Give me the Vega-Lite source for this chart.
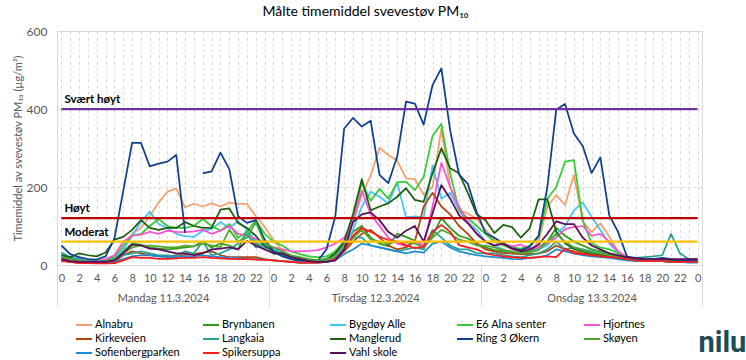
{
"$schema": "https://vega.github.io/schema/vega-lite/v6.json",
"width": 645, "height": 234,
"autosize": {"type": "none"},
"padding": {"left": 57, "top": 31, "right": 44, "bottom": 95},
"background": "white",
"title": {"text": "Målte timemiddel svevestøv PM₁₀", "fontSize": 14, "fontWeight": "normal", "color": "#000000", "anchor": "middle", "frame": "group", "dx": -14, "offset": 6},
"config": {
  "view": {"stroke": "#D9D9D9"},
  "font": "Lato",
  "axis": {"labelFont": "Lato", "titleFont": "Lato"},
  "legend": {"labelFont": "Lato"},
  "title": {"font": "Lato"},
  "text": {"font": "Lato"}
},
"resolve": {"axis": {"x": "independent"}},
"layer": [
{
  "data": {"values": [
{"h":0,"s":"Alnabru","v":15},{"h":1,"s":"Alnabru","v":10},{"h":2,"s":"Alnabru","v":8},{"h":3,"s":"Alnabru","v":6},{"h":4,"s":"Alnabru","v":6},{"h":5,"s":"Alnabru","v":8},{"h":6,"s":"Alnabru","v":15},{"h":7,"s":"Alnabru","v":45},{"h":8,"s":"Alnabru","v":80},{"h":9,"s":"Alnabru","v":95},{"h":10,"s":"Alnabru","v":125},{"h":11,"s":"Alnabru","v":160},{"h":12,"s":"Alnabru","v":188},{"h":13,"s":"Alnabru","v":196},{"h":14,"s":"Alnabru","v":148},{"h":15,"s":"Alnabru","v":157},{"h":16,"s":"Alnabru","v":150},{"h":17,"s":"Alnabru","v":158},{"h":18,"s":"Alnabru","v":150},{"h":19,"s":"Alnabru","v":160},{"h":20,"s":"Alnabru","v":157},{"h":21,"s":"Alnabru","v":157},{"h":22,"s":"Alnabru","v":125},{"h":23,"s":"Alnabru","v":98},
{"h":24,"s":"Alnabru","v":64},{"h":25,"s":"Alnabru","v":38},{"h":26,"s":"Alnabru","v":21},{"h":27,"s":"Alnabru","v":12},{"h":28,"s":"Alnabru","v":8},{"h":29,"s":"Alnabru","v":8},{"h":30,"s":"Alnabru","v":10},{"h":31,"s":"Alnabru","v":25},{"h":32,"s":"Alnabru","v":55},{"h":33,"s":"Alnabru","v":110},{"h":34,"s":"Alnabru","v":180},{"h":35,"s":"Alnabru","v":230},{"h":36,"s":"Alnabru","v":300},{"h":37,"s":"Alnabru","v":282},{"h":38,"s":"Alnabru","v":268},{"h":39,"s":"Alnabru","v":222},{"h":40,"s":"Alnabru","v":220},{"h":41,"s":"Alnabru","v":180},{"h":42,"s":"Alnabru","v":200},{"h":43,"s":"Alnabru","v":350},{"h":44,"s":"Alnabru","v":200},{"h":45,"s":"Alnabru","v":140},{"h":46,"s":"Alnabru","v":132},{"h":47,"s":"Alnabru","v":118},
{"h":48,"s":"Alnabru","v":90},{"h":49,"s":"Alnabru","v":64},{"h":50,"s":"Alnabru","v":50},{"h":51,"s":"Alnabru","v":40},{"h":52,"s":"Alnabru","v":35},{"h":53,"s":"Alnabru","v":35},{"h":54,"s":"Alnabru","v":60},{"h":55,"s":"Alnabru","v":150},{"h":56,"s":"Alnabru","v":179},{"h":57,"s":"Alnabru","v":154},{"h":58,"s":"Alnabru","v":231},{"h":59,"s":"Alnabru","v":111},{"h":60,"s":"Alnabru","v":85},{"h":61,"s":"Alnabru","v":107},{"h":62,"s":"Alnabru","v":73},{"h":63,"s":"Alnabru","v":34},{"h":64,"s":"Alnabru","v":18},{"h":65,"s":"Alnabru","v":14},{"h":66,"s":"Alnabru","v":12},{"h":67,"s":"Alnabru","v":12},{"h":68,"s":"Alnabru","v":12},{"h":69,"s":"Alnabru","v":10},{"h":70,"s":"Alnabru","v":8},{"h":71,"s":"Alnabru","v":8},{"h":72,"s":"Alnabru","v":8},

{"h":0,"s":"Brynbanen","v":18},{"h":1,"s":"Brynbanen","v":15},{"h":2,"s":"Brynbanen","v":12},{"h":3,"s":"Brynbanen","v":10},{"h":4,"s":"Brynbanen","v":8},{"h":5,"s":"Brynbanen","v":10},{"h":6,"s":"Brynbanen","v":18},{"h":7,"s":"Brynbanen","v":35},{"h":8,"s":"Brynbanen","v":55},{"h":9,"s":"Brynbanen","v":52},{"h":10,"s":"Brynbanen","v":45},{"h":11,"s":"Brynbanen","v":42},{"h":12,"s":"Brynbanen","v":40},{"h":13,"s":"Brynbanen","v":42},{"h":14,"s":"Brynbanen","v":45},{"h":15,"s":"Brynbanen","v":48},{"h":16,"s":"Brynbanen","v":60},{"h":17,"s":"Brynbanen","v":45},{"h":18,"s":"Brynbanen","v":55},{"h":19,"s":"Brynbanen","v":50},{"h":20,"s":"Brynbanen","v":40},{"h":21,"s":"Brynbanen","v":90},{"h":22,"s":"Brynbanen","v":55},{"h":23,"s":"Brynbanen","v":45},
{"h":24,"s":"Brynbanen","v":40},{"h":25,"s":"Brynbanen","v":30},{"h":26,"s":"Brynbanen","v":22},{"h":27,"s":"Brynbanen","v":18},{"h":28,"s":"Brynbanen","v":15},{"h":29,"s":"Brynbanen","v":12},{"h":30,"s":"Brynbanen","v":15},{"h":31,"s":"Brynbanen","v":25},{"h":32,"s":"Brynbanen","v":50},{"h":33,"s":"Brynbanen","v":85},{"h":34,"s":"Brynbanen","v":100},{"h":35,"s":"Brynbanen","v":70},{"h":36,"s":"Brynbanen","v":55},{"h":37,"s":"Brynbanen","v":48},{"h":38,"s":"Brynbanen","v":80},{"h":39,"s":"Brynbanen","v":72},{"h":40,"s":"Brynbanen","v":62},{"h":41,"s":"Brynbanen","v":50},{"h":42,"s":"Brynbanen","v":75},{"h":43,"s":"Brynbanen","v":120},{"h":44,"s":"Brynbanen","v":95},{"h":45,"s":"Brynbanen","v":75},{"h":46,"s":"Brynbanen","v":68},{"h":47,"s":"Brynbanen","v":55},
{"h":48,"s":"Brynbanen","v":45},{"h":49,"s":"Brynbanen","v":38},{"h":50,"s":"Brynbanen","v":35},{"h":51,"s":"Brynbanen","v":30},{"h":52,"s":"Brynbanen","v":32},{"h":53,"s":"Brynbanen","v":35},{"h":54,"s":"Brynbanen","v":45},{"h":55,"s":"Brynbanen","v":60},{"h":56,"s":"Brynbanen","v":95},{"h":57,"s":"Brynbanen","v":75},{"h":58,"s":"Brynbanen","v":60},{"h":59,"s":"Brynbanen","v":50},{"h":60,"s":"Brynbanen","v":40},{"h":61,"s":"Brynbanen","v":35},{"h":62,"s":"Brynbanen","v":30},{"h":63,"s":"Brynbanen","v":25},{"h":64,"s":"Brynbanen","v":20},{"h":65,"s":"Brynbanen","v":15},{"h":66,"s":"Brynbanen","v":12},{"h":67,"s":"Brynbanen","v":12},{"h":68,"s":"Brynbanen","v":12},{"h":69,"s":"Brynbanen","v":10},{"h":70,"s":"Brynbanen","v":10},{"h":71,"s":"Brynbanen","v":8},{"h":72,"s":"Brynbanen","v":8},

{"h":0,"s":"Bygdøy Alle","v":30},{"h":1,"s":"Bygdøy Alle","v":15},{"h":2,"s":"Bygdøy Alle","v":10},{"h":3,"s":"Bygdøy Alle","v":6},{"h":4,"s":"Bygdøy Alle","v":5},{"h":5,"s":"Bygdøy Alle","v":8},{"h":6,"s":"Bygdøy Alle","v":18},{"h":7,"s":"Bygdøy Alle","v":40},{"h":8,"s":"Bygdøy Alle","v":75},{"h":9,"s":"Bygdøy Alle","v":110},{"h":10,"s":"Bygdøy Alle","v":137},{"h":11,"s":"Bygdøy Alle","v":105},{"h":12,"s":"Bygdøy Alle","v":95},{"h":13,"s":"Bygdøy Alle","v":80},{"h":14,"s":"Bygdøy Alle","v":74},{"h":15,"s":"Bygdøy Alle","v":72},{"h":16,"s":"Bygdøy Alle","v":88},{"h":17,"s":"Bygdøy Alle","v":92},{"h":18,"s":"Bygdøy Alle","v":110},{"h":19,"s":"Bygdøy Alle","v":95},{"h":20,"s":"Bygdøy Alle","v":112},{"h":21,"s":"Bygdøy Alle","v":90},{"h":22,"s":"Bygdøy Alle","v":62},{"h":23,"s":"Bygdøy Alle","v":45},
{"h":24,"s":"Bygdøy Alle","v":40},{"h":25,"s":"Bygdøy Alle","v":30},{"h":26,"s":"Bygdøy Alle","v":20},{"h":27,"s":"Bygdøy Alle","v":15},{"h":28,"s":"Bygdøy Alle","v":12},{"h":29,"s":"Bygdøy Alle","v":10},{"h":30,"s":"Bygdøy Alle","v":12},{"h":31,"s":"Bygdøy Alle","v":22},{"h":32,"s":"Bygdøy Alle","v":45},{"h":33,"s":"Bygdøy Alle","v":90},{"h":34,"s":"Bygdøy Alle","v":150},{"h":35,"s":"Bygdøy Alle","v":188},{"h":36,"s":"Bygdøy Alle","v":175},{"h":37,"s":"Bygdøy Alle","v":158},{"h":38,"s":"Bygdøy Alle","v":212},{"h":39,"s":"Bygdøy Alle","v":122},{"h":40,"s":"Bygdøy Alle","v":125},{"h":41,"s":"Bygdøy Alle","v":122},{"h":42,"s":"Bygdøy Alle","v":255},{"h":43,"s":"Bygdøy Alle","v":170},{"h":44,"s":"Bygdøy Alle","v":185},{"h":45,"s":"Bygdøy Alle","v":140},{"h":46,"s":"Bygdøy Alle","v":110},{"h":47,"s":"Bygdøy Alle","v":90},
{"h":48,"s":"Bygdøy Alle","v":60},{"h":49,"s":"Bygdøy Alle","v":50},{"h":50,"s":"Bygdøy Alle","v":40},{"h":51,"s":"Bygdøy Alle","v":30},{"h":52,"s":"Bygdøy Alle","v":28},{"h":53,"s":"Bygdøy Alle","v":32},{"h":54,"s":"Bygdøy Alle","v":40},{"h":55,"s":"Bygdøy Alle","v":50},{"h":56,"s":"Bygdøy Alle","v":80},{"h":57,"s":"Bygdøy Alle","v":100},{"h":58,"s":"Bygdøy Alle","v":140},{"h":59,"s":"Bygdøy Alle","v":160},{"h":60,"s":"Bygdøy Alle","v":124},{"h":61,"s":"Bygdøy Alle","v":90},{"h":62,"s":"Bygdøy Alle","v":56},{"h":63,"s":"Bygdøy Alle","v":30},{"h":64,"s":"Bygdøy Alle","v":20},{"h":65,"s":"Bygdøy Alle","v":16},{"h":66,"s":"Bygdøy Alle","v":14},{"h":67,"s":"Bygdøy Alle","v":14},{"h":68,"s":"Bygdøy Alle","v":13},{"h":69,"s":"Bygdøy Alle","v":12},{"h":70,"s":"Bygdøy Alle","v":10},{"h":71,"s":"Bygdøy Alle","v":10},{"h":72,"s":"Bygdøy Alle","v":10},

{"h":0,"s":"E6 Alna senter","v":25},{"h":1,"s":"E6 Alna senter","v":15},{"h":2,"s":"E6 Alna senter","v":10},{"h":3,"s":"E6 Alna senter","v":8},{"h":4,"s":"E6 Alna senter","v":8},{"h":5,"s":"E6 Alna senter","v":10},{"h":6,"s":"E6 Alna senter","v":22},{"h":7,"s":"E6 Alna senter","v":50},{"h":8,"s":"E6 Alna senter","v":75},{"h":9,"s":"E6 Alna senter","v":80},{"h":10,"s":"E6 Alna senter","v":100},{"h":11,"s":"E6 Alna senter","v":118},{"h":12,"s":"E6 Alna senter","v":100},{"h":13,"s":"E6 Alna senter","v":95},{"h":14,"s":"E6 Alna senter","v":95},{"h":15,"s":"E6 Alna senter","v":100},{"h":16,"s":"E6 Alna senter","v":118},{"h":17,"s":"E6 Alna senter","v":100},{"h":18,"s":"E6 Alna senter","v":88},{"h":19,"s":"E6 Alna senter","v":105},{"h":20,"s":"E6 Alna senter","v":70},{"h":21,"s":"E6 Alna senter","v":85},{"h":22,"s":"E6 Alna senter","v":115},{"h":23,"s":"E6 Alna senter","v":80},
{"h":24,"s":"E6 Alna senter","v":60},{"h":25,"s":"E6 Alna senter","v":50},{"h":26,"s":"E6 Alna senter","v":35},{"h":27,"s":"E6 Alna senter","v":28},{"h":28,"s":"E6 Alna senter","v":22},{"h":29,"s":"E6 Alna senter","v":20},{"h":30,"s":"E6 Alna senter","v":22},{"h":31,"s":"E6 Alna senter","v":35},{"h":32,"s":"E6 Alna senter","v":60},{"h":33,"s":"E6 Alna senter","v":120},{"h":34,"s":"E6 Alna senter","v":210},{"h":35,"s":"E6 Alna senter","v":165},{"h":36,"s":"E6 Alna senter","v":195},{"h":37,"s":"E6 Alna senter","v":170},{"h":38,"s":"E6 Alna senter","v":212},{"h":39,"s":"E6 Alna senter","v":214},{"h":40,"s":"E6 Alna senter","v":192},{"h":41,"s":"E6 Alna senter","v":226},{"h":42,"s":"E6 Alna senter","v":331},{"h":43,"s":"E6 Alna senter","v":362},{"h":44,"s":"E6 Alna senter","v":235},{"h":45,"s":"E6 Alna senter","v":140},{"h":46,"s":"E6 Alna senter","v":120},{"h":47,"s":"E6 Alna senter","v":100},
{"h":48,"s":"E6 Alna senter","v":80},{"h":49,"s":"E6 Alna senter","v":60},{"h":50,"s":"E6 Alna senter","v":50},{"h":51,"s":"E6 Alna senter","v":45},{"h":52,"s":"E6 Alna senter","v":42},{"h":53,"s":"E6 Alna senter","v":50},{"h":54,"s":"E6 Alna senter","v":70},{"h":55,"s":"E6 Alna senter","v":170},{"h":56,"s":"E6 Alna senter","v":200},{"h":57,"s":"E6 Alna senter","v":265},{"h":58,"s":"E6 Alna senter","v":269},{"h":59,"s":"E6 Alna senter","v":115},{"h":60,"s":"E6 Alna senter","v":56},{"h":61,"s":"E6 Alna senter","v":45},{"h":62,"s":"E6 Alna senter","v":40},{"h":63,"s":"E6 Alna senter","v":30},{"h":64,"s":"E6 Alna senter","v":20},{"h":65,"s":"E6 Alna senter","v":15},{"h":66,"s":"E6 Alna senter","v":14},{"h":67,"s":"E6 Alna senter","v":15},{"h":68,"s":"E6 Alna senter","v":15},{"h":69,"s":"E6 Alna senter","v":12},{"h":70,"s":"E6 Alna senter","v":12},{"h":71,"s":"E6 Alna senter","v":10},{"h":72,"s":"E6 Alna senter","v":10},

{"h":0,"s":"Hjortnes","v":20},{"h":1,"s":"Hjortnes","v":15},{"h":2,"s":"Hjortnes","v":10},{"h":3,"s":"Hjortnes","v":10},{"h":4,"s":"Hjortnes","v":10},{"h":5,"s":"Hjortnes","v":15},{"h":6,"s":"Hjortnes","v":25},{"h":7,"s":"Hjortnes","v":60},{"h":8,"s":"Hjortnes","v":75},{"h":9,"s":"Hjortnes","v":78},{"h":10,"s":"Hjortnes","v":85},{"h":11,"s":"Hjortnes","v":80},{"h":12,"s":"Hjortnes","v":88},{"h":13,"s":"Hjortnes","v":85},{"h":14,"s":"Hjortnes","v":84},{"h":15,"s":"Hjortnes","v":86},{"h":16,"s":"Hjortnes","v":90},{"h":17,"s":"Hjortnes","v":80},{"h":18,"s":"Hjortnes","v":88},{"h":19,"s":"Hjortnes","v":100},{"h":20,"s":"Hjortnes","v":80},{"h":21,"s":"Hjortnes","v":75},{"h":22,"s":"Hjortnes","v":68},{"h":23,"s":"Hjortnes","v":55},
{"h":24,"s":"Hjortnes","v":45},{"h":25,"s":"Hjortnes","v":40},{"h":26,"s":"Hjortnes","v":35},{"h":27,"s":"Hjortnes","v":35},{"h":28,"s":"Hjortnes","v":36},{"h":29,"s":"Hjortnes","v":38},{"h":30,"s":"Hjortnes","v":45},{"h":31,"s":"Hjortnes","v":55},{"h":32,"s":"Hjortnes","v":70},{"h":33,"s":"Hjortnes","v":110},{"h":34,"s":"Hjortnes","v":190},{"h":35,"s":"Hjortnes","v":130},{"h":36,"s":"Hjortnes","v":100},{"h":37,"s":"Hjortnes","v":70},{"h":38,"s":"Hjortnes","v":55},{"h":39,"s":"Hjortnes","v":48},{"h":40,"s":"Hjortnes","v":60},{"h":41,"s":"Hjortnes","v":50},{"h":42,"s":"Hjortnes","v":150},{"h":43,"s":"Hjortnes","v":262},{"h":44,"s":"Hjortnes","v":200},{"h":45,"s":"Hjortnes","v":150},{"h":46,"s":"Hjortnes","v":110},{"h":47,"s":"Hjortnes","v":80},
{"h":48,"s":"Hjortnes","v":60},{"h":49,"s":"Hjortnes","v":50},{"h":50,"s":"Hjortnes","v":55},{"h":51,"s":"Hjortnes","v":48},{"h":52,"s":"Hjortnes","v":52},{"h":53,"s":"Hjortnes","v":42},{"h":54,"s":"Hjortnes","v":45},{"h":55,"s":"Hjortnes","v":55},{"h":56,"s":"Hjortnes","v":70},{"h":57,"s":"Hjortnes","v":92},{"h":58,"s":"Hjortnes","v":98},{"h":59,"s":"Hjortnes","v":100},{"h":60,"s":"Hjortnes","v":75},{"h":61,"s":"Hjortnes","v":80},{"h":62,"s":"Hjortnes","v":60},{"h":63,"s":"Hjortnes","v":35},{"h":64,"s":"Hjortnes","v":20},{"h":65,"s":"Hjortnes","v":15},{"h":66,"s":"Hjortnes","v":12},{"h":67,"s":"Hjortnes","v":10},{"h":68,"s":"Hjortnes","v":10},{"h":69,"s":"Hjortnes","v":8},{"h":70,"s":"Hjortnes","v":8},{"h":71,"s":"Hjortnes","v":8},{"h":72,"s":"Hjortnes","v":8},

{"h":0,"s":"Kirkeveien","v":12},{"h":1,"s":"Kirkeveien","v":8},{"h":2,"s":"Kirkeveien","v":6},{"h":3,"s":"Kirkeveien","v":5},{"h":4,"s":"Kirkeveien","v":5},{"h":5,"s":"Kirkeveien","v":5},{"h":6,"s":"Kirkeveien","v":8},{"h":7,"s":"Kirkeveien","v":25},{"h":8,"s":"Kirkeveien","v":35},{"h":9,"s":"Kirkeveien","v":30},{"h":10,"s":"Kirkeveien","v":25},{"h":11,"s":"Kirkeveien","v":22},{"h":12,"s":"Kirkeveien","v":22},{"h":13,"s":"Kirkeveien","v":25},{"h":14,"s":"Kirkeveien","v":26},{"h":15,"s":"Kirkeveien","v":28},{"h":16,"s":"Kirkeveien","v":32},{"h":17,"s":"Kirkeveien","v":35},{"h":18,"s":"Kirkeveien","v":25},{"h":19,"s":"Kirkeveien","v":20},{"h":20,"s":"Kirkeveien","v":20},{"h":21,"s":"Kirkeveien","v":20},{"h":22,"s":"Kirkeveien","v":20},{"h":23,"s":"Kirkeveien","v":15},
{"h":24,"s":"Kirkeveien","v":12},{"h":25,"s":"Kirkeveien","v":10},{"h":26,"s":"Kirkeveien","v":8},{"h":27,"s":"Kirkeveien","v":6},{"h":28,"s":"Kirkeveien","v":6},{"h":29,"s":"Kirkeveien","v":6},{"h":30,"s":"Kirkeveien","v":8},{"h":31,"s":"Kirkeveien","v":15},{"h":32,"s":"Kirkeveien","v":35},{"h":33,"s":"Kirkeveien","v":60},{"h":34,"s":"Kirkeveien","v":80},{"h":35,"s":"Kirkeveien","v":90},{"h":36,"s":"Kirkeveien","v":70},{"h":37,"s":"Kirkeveien","v":50},{"h":38,"s":"Kirkeveien","v":40},{"h":39,"s":"Kirkeveien","v":45},{"h":40,"s":"Kirkeveien","v":60},{"h":41,"s":"Kirkeveien","v":150},{"h":42,"s":"Kirkeveien","v":185},{"h":43,"s":"Kirkeveien","v":150},{"h":44,"s":"Kirkeveien","v":130},{"h":45,"s":"Kirkeveien","v":100},{"h":46,"s":"Kirkeveien","v":80},{"h":47,"s":"Kirkeveien","v":55},
{"h":48,"s":"Kirkeveien","v":40},{"h":49,"s":"Kirkeveien","v":35},{"h":50,"s":"Kirkeveien","v":30},{"h":51,"s":"Kirkeveien","v":30},{"h":52,"s":"Kirkeveien","v":28},{"h":53,"s":"Kirkeveien","v":28},{"h":54,"s":"Kirkeveien","v":30},{"h":55,"s":"Kirkeveien","v":35},{"h":56,"s":"Kirkeveien","v":50},{"h":57,"s":"Kirkeveien","v":40},{"h":58,"s":"Kirkeveien","v":35},{"h":59,"s":"Kirkeveien","v":30},{"h":60,"s":"Kirkeveien","v":28},{"h":61,"s":"Kirkeveien","v":25},{"h":62,"s":"Kirkeveien","v":22},{"h":63,"s":"Kirkeveien","v":18},{"h":64,"s":"Kirkeveien","v":15},{"h":65,"s":"Kirkeveien","v":12},{"h":66,"s":"Kirkeveien","v":10},{"h":67,"s":"Kirkeveien","v":10},{"h":68,"s":"Kirkeveien","v":10},{"h":69,"s":"Kirkeveien","v":8},{"h":70,"s":"Kirkeveien","v":8},{"h":71,"s":"Kirkeveien","v":8},{"h":72,"s":"Kirkeveien","v":8},

{"h":0,"s":"Langkaia","v":32},{"h":1,"s":"Langkaia","v":20},{"h":2,"s":"Langkaia","v":15},{"h":3,"s":"Langkaia","v":10},{"h":4,"s":"Langkaia","v":10},{"h":5,"s":"Langkaia","v":10},{"h":6,"s":"Langkaia","v":15},{"h":7,"s":"Langkaia","v":25},{"h":8,"s":"Langkaia","v":30},{"h":9,"s":"Langkaia","v":35},{"h":10,"s":"Langkaia","v":30},{"h":11,"s":"Langkaia","v":25},{"h":12,"s":"Langkaia","v":25},{"h":13,"s":"Langkaia","v":22},{"h":14,"s":"Langkaia","v":35},{"h":15,"s":"Langkaia","v":30},{"h":16,"s":"Langkaia","v":60},{"h":17,"s":"Langkaia","v":25},{"h":18,"s":"Langkaia","v":30},{"h":19,"s":"Langkaia","v":40},{"h":20,"s":"Langkaia","v":55},{"h":21,"s":"Langkaia","v":80},{"h":22,"s":"Langkaia","v":45},{"h":23,"s":"Langkaia","v":55},
{"h":24,"s":"Langkaia","v":30},{"h":25,"s":"Langkaia","v":25},{"h":26,"s":"Langkaia","v":15},{"h":27,"s":"Langkaia","v":10},{"h":28,"s":"Langkaia","v":10},{"h":29,"s":"Langkaia","v":10},{"h":30,"s":"Langkaia","v":10},{"h":31,"s":"Langkaia","v":15},{"h":32,"s":"Langkaia","v":40},{"h":33,"s":"Langkaia","v":70},{"h":34,"s":"Langkaia","v":70},{"h":35,"s":"Langkaia","v":50},{"h":36,"s":"Langkaia","v":45},{"h":37,"s":"Langkaia","v":40},{"h":38,"s":"Langkaia","v":35},{"h":39,"s":"Langkaia","v":40},{"h":40,"s":"Langkaia","v":45},{"h":41,"s":"Langkaia","v":40},{"h":42,"s":"Langkaia","v":90},{"h":43,"s":"Langkaia","v":70},{"h":44,"s":"Langkaia","v":50},{"h":45,"s":"Langkaia","v":40},{"h":46,"s":"Langkaia","v":40},{"h":47,"s":"Langkaia","v":30},
{"h":48,"s":"Langkaia","v":30},{"h":49,"s":"Langkaia","v":30},{"h":50,"s":"Langkaia","v":25},{"h":51,"s":"Langkaia","v":22},{"h":52,"s":"Langkaia","v":20},{"h":53,"s":"Langkaia","v":25},{"h":54,"s":"Langkaia","v":30},{"h":55,"s":"Langkaia","v":40},{"h":56,"s":"Langkaia","v":60},{"h":57,"s":"Langkaia","v":40},{"h":58,"s":"Langkaia","v":45},{"h":59,"s":"Langkaia","v":40},{"h":60,"s":"Langkaia","v":35},{"h":61,"s":"Langkaia","v":30},{"h":62,"s":"Langkaia","v":25},{"h":63,"s":"Langkaia","v":22},{"h":64,"s":"Langkaia","v":20},{"h":65,"s":"Langkaia","v":18},{"h":66,"s":"Langkaia","v":20},{"h":67,"s":"Langkaia","v":22},{"h":68,"s":"Langkaia","v":25},{"h":69,"s":"Langkaia","v":80},{"h":70,"s":"Langkaia","v":30},{"h":71,"s":"Langkaia","v":15},{"h":72,"s":"Langkaia","v":12},

{"h":0,"s":"Manglerud","v":25},{"h":1,"s":"Manglerud","v":20},{"h":2,"s":"Manglerud","v":30},{"h":3,"s":"Manglerud","v":25},{"h":4,"s":"Manglerud","v":22},{"h":5,"s":"Manglerud","v":32},{"h":6,"s":"Manglerud","v":65},{"h":7,"s":"Manglerud","v":72},{"h":8,"s":"Manglerud","v":90},{"h":9,"s":"Manglerud","v":115},{"h":10,"s":"Manglerud","v":95},{"h":11,"s":"Manglerud","v":90},{"h":12,"s":"Manglerud","v":95},{"h":13,"s":"Manglerud","v":95},{"h":14,"s":"Manglerud","v":110},{"h":15,"s":"Manglerud","v":100},{"h":16,"s":"Manglerud","v":95},{"h":17,"s":"Manglerud","v":95},{"h":18,"s":"Manglerud","v":142},{"h":19,"s":"Manglerud","v":145},{"h":20,"s":"Manglerud","v":108},{"h":21,"s":"Manglerud","v":95},{"h":22,"s":"Manglerud","v":75},{"h":23,"s":"Manglerud","v":48},
{"h":24,"s":"Manglerud","v":35},{"h":25,"s":"Manglerud","v":28},{"h":26,"s":"Manglerud","v":20},{"h":27,"s":"Manglerud","v":15},{"h":28,"s":"Manglerud","v":12},{"h":29,"s":"Manglerud","v":12},{"h":30,"s":"Manglerud","v":15},{"h":31,"s":"Manglerud","v":30},{"h":32,"s":"Manglerud","v":60},{"h":33,"s":"Manglerud","v":130},{"h":34,"s":"Manglerud","v":220},{"h":35,"s":"Manglerud","v":140},{"h":36,"s":"Manglerud","v":150},{"h":37,"s":"Manglerud","v":158},{"h":38,"s":"Manglerud","v":175},{"h":39,"s":"Manglerud","v":197},{"h":40,"s":"Manglerud","v":167},{"h":41,"s":"Manglerud","v":162},{"h":42,"s":"Manglerud","v":235},{"h":43,"s":"Manglerud","v":299},{"h":44,"s":"Manglerud","v":248},{"h":45,"s":"Manglerud","v":235},{"h":46,"s":"Manglerud","v":185},{"h":47,"s":"Manglerud","v":130},
{"h":48,"s":"Manglerud","v":115},{"h":49,"s":"Manglerud","v":82},{"h":50,"s":"Manglerud","v":103},{"h":51,"s":"Manglerud","v":97},{"h":52,"s":"Manglerud","v":70},{"h":53,"s":"Manglerud","v":94},{"h":54,"s":"Manglerud","v":168},{"h":55,"s":"Manglerud","v":168},{"h":56,"s":"Manglerud","v":85},{"h":57,"s":"Manglerud","v":56},{"h":58,"s":"Manglerud","v":41},{"h":59,"s":"Manglerud","v":35},{"h":60,"s":"Manglerud","v":30},{"h":61,"s":"Manglerud","v":28},{"h":62,"s":"Manglerud","v":25},{"h":63,"s":"Manglerud","v":22},{"h":64,"s":"Manglerud","v":18},{"h":65,"s":"Manglerud","v":15},{"h":66,"s":"Manglerud","v":12},{"h":67,"s":"Manglerud","v":12},{"h":68,"s":"Manglerud","v":12},{"h":69,"s":"Manglerud","v":10},{"h":70,"s":"Manglerud","v":10},{"h":71,"s":"Manglerud","v":8},{"h":72,"s":"Manglerud","v":8},

{"h":0,"s":"Ring 3 Økern","v":50},{"h":1,"s":"Ring 3 Økern","v":28},{"h":2,"s":"Ring 3 Økern","v":20},{"h":3,"s":"Ring 3 Økern","v":15},{"h":4,"s":"Ring 3 Økern","v":14},{"h":5,"s":"Ring 3 Økern","v":22},{"h":6,"s":"Ring 3 Økern","v":68},{"h":7,"s":"Ring 3 Økern","v":190},{"h":8,"s":"Ring 3 Økern","v":313},{"h":9,"s":"Ring 3 Økern","v":313},{"h":10,"s":"Ring 3 Økern","v":253},{"h":11,"s":"Ring 3 Økern","v":260},{"h":12,"s":"Ring 3 Økern","v":265},{"h":13,"s":"Ring 3 Økern","v":282},{"h":14,"s":"Ring 3 Økern","v":82},{"h":15,"s":"Ring 3 Økern","v":null},{"h":16,"s":"Ring 3 Økern","v":235},{"h":17,"s":"Ring 3 Økern","v":240},{"h":18,"s":"Ring 3 Økern","v":288},{"h":19,"s":"Ring 3 Økern","v":246},{"h":20,"s":"Ring 3 Økern","v":125},{"h":21,"s":"Ring 3 Økern","v":108},{"h":22,"s":"Ring 3 Økern","v":115},{"h":23,"s":"Ring 3 Økern","v":65},
{"h":24,"s":"Ring 3 Økern","v":35},{"h":25,"s":"Ring 3 Økern","v":22},{"h":26,"s":"Ring 3 Økern","v":15},{"h":27,"s":"Ring 3 Økern","v":12},{"h":28,"s":"Ring 3 Økern","v":10},{"h":29,"s":"Ring 3 Økern","v":10},{"h":30,"s":"Ring 3 Økern","v":40},{"h":31,"s":"Ring 3 Økern","v":125},{"h":32,"s":"Ring 3 Økern","v":350},{"h":33,"s":"Ring 3 Økern","v":377},{"h":34,"s":"Ring 3 Økern","v":355},{"h":35,"s":"Ring 3 Økern","v":370},{"h":36,"s":"Ring 3 Økern","v":231},{"h":37,"s":"Ring 3 Økern","v":210},{"h":38,"s":"Ring 3 Økern","v":278},{"h":39,"s":"Ring 3 Økern","v":419},{"h":40,"s":"Ring 3 Økern","v":414},{"h":41,"s":"Ring 3 Økern","v":360},{"h":42,"s":"Ring 3 Økern","v":461},{"h":43,"s":"Ring 3 Økern","v":504},{"h":44,"s":"Ring 3 Økern","v":345},{"h":45,"s":"Ring 3 Økern","v":232},{"h":46,"s":"Ring 3 Økern","v":208},{"h":47,"s":"Ring 3 Økern","v":135},
{"h":48,"s":"Ring 3 Økern","v":82},{"h":49,"s":"Ring 3 Økern","v":70},{"h":50,"s":"Ring 3 Økern","v":56},{"h":51,"s":"Ring 3 Økern","v":43},{"h":52,"s":"Ring 3 Økern","v":38},{"h":53,"s":"Ring 3 Økern","v":47},{"h":54,"s":"Ring 3 Økern","v":75},{"h":55,"s":"Ring 3 Økern","v":200},{"h":56,"s":"Ring 3 Økern","v":398},{"h":57,"s":"Ring 3 Økern","v":413},{"h":58,"s":"Ring 3 Økern","v":337},{"h":59,"s":"Ring 3 Økern","v":305},{"h":60,"s":"Ring 3 Økern","v":236},{"h":61,"s":"Ring 3 Økern","v":276},{"h":62,"s":"Ring 3 Økern","v":128},{"h":63,"s":"Ring 3 Økern","v":85},{"h":64,"s":"Ring 3 Økern","v":22},{"h":65,"s":"Ring 3 Økern","v":15},{"h":66,"s":"Ring 3 Økern","v":14},{"h":67,"s":"Ring 3 Økern","v":15},{"h":68,"s":"Ring 3 Økern","v":18},{"h":69,"s":"Ring 3 Økern","v":15},{"h":70,"s":"Ring 3 Økern","v":12},{"h":71,"s":"Ring 3 Økern","v":12},{"h":72,"s":"Ring 3 Økern","v":13},

{"h":0,"s":"Skøyen","v":20},{"h":1,"s":"Skøyen","v":15},{"h":2,"s":"Skøyen","v":10},{"h":3,"s":"Skøyen","v":8},{"h":4,"s":"Skøyen","v":8},{"h":5,"s":"Skøyen","v":10},{"h":6,"s":"Skøyen","v":15},{"h":7,"s":"Skøyen","v":30},{"h":8,"s":"Skøyen","v":45},{"h":9,"s":"Skøyen","v":50},{"h":10,"s":"Skøyen","v":50},{"h":11,"s":"Skøyen","v":48},{"h":12,"s":"Skøyen","v":45},{"h":13,"s":"Skøyen","v":45},{"h":14,"s":"Skøyen","v":50},{"h":15,"s":"Skøyen","v":48},{"h":16,"s":"Skøyen","v":55},{"h":17,"s":"Skøyen","v":50},{"h":18,"s":"Skøyen","v":45},{"h":19,"s":"Skøyen","v":90},{"h":20,"s":"Skøyen","v":60},{"h":21,"s":"Skøyen","v":70},{"h":22,"s":"Skøyen","v":110},{"h":23,"s":"Skøyen","v":55},
{"h":24,"s":"Skøyen","v":45},{"h":25,"s":"Skøyen","v":35},{"h":26,"s":"Skøyen","v":25},{"h":27,"s":"Skøyen","v":20},{"h":28,"s":"Skøyen","v":15},{"h":29,"s":"Skøyen","v":12},{"h":30,"s":"Skøyen","v":15},{"h":31,"s":"Skøyen","v":20},{"h":32,"s":"Skøyen","v":40},{"h":33,"s":"Skøyen","v":70},{"h":34,"s":"Skøyen","v":90},{"h":35,"s":"Skøyen","v":65},{"h":36,"s":"Skøyen","v":60},{"h":37,"s":"Skøyen","v":55},{"h":38,"s":"Skøyen","v":60},{"h":39,"s":"Skøyen","v":58},{"h":40,"s":"Skøyen","v":55},{"h":41,"s":"Skøyen","v":45},{"h":42,"s":"Skøyen","v":70},{"h":43,"s":"Skøyen","v":90},{"h":44,"s":"Skøyen","v":80},{"h":45,"s":"Skøyen","v":65},{"h":46,"s":"Skøyen","v":60},{"h":47,"s":"Skøyen","v":50},
{"h":48,"s":"Skøyen","v":50},{"h":49,"s":"Skøyen","v":45},{"h":50,"s":"Skøyen","v":38},{"h":51,"s":"Skøyen","v":35},{"h":52,"s":"Skøyen","v":30},{"h":53,"s":"Skøyen","v":32},{"h":54,"s":"Skøyen","v":38},{"h":55,"s":"Skøyen","v":60},{"h":56,"s":"Skøyen","v":80},{"h":57,"s":"Skøyen","v":60},{"h":58,"s":"Skøyen","v":45},{"h":59,"s":"Skøyen","v":38},{"h":60,"s":"Skøyen","v":32},{"h":61,"s":"Skøyen","v":30},{"h":62,"s":"Skøyen","v":25},{"h":63,"s":"Skøyen","v":20},{"h":64,"s":"Skøyen","v":15},{"h":65,"s":"Skøyen","v":12},{"h":66,"s":"Skøyen","v":10},{"h":67,"s":"Skøyen","v":10},{"h":68,"s":"Skøyen","v":10},{"h":69,"s":"Skøyen","v":8},{"h":70,"s":"Skøyen","v":8},{"h":71,"s":"Skøyen","v":8},{"h":72,"s":"Skøyen","v":8},

{"h":0,"s":"Sofienbergparken","v":12},{"h":1,"s":"Sofienbergparken","v":8},{"h":2,"s":"Sofienbergparken","v":6},{"h":3,"s":"Sofienbergparken","v":5},{"h":4,"s":"Sofienbergparken","v":5},{"h":5,"s":"Sofienbergparken","v":5},{"h":6,"s":"Sofienbergparken","v":8},{"h":7,"s":"Sofienbergparken","v":15},{"h":8,"s":"Sofienbergparken","v":22},{"h":9,"s":"Sofienbergparken","v":25},{"h":10,"s":"Sofienbergparken","v":25},{"h":11,"s":"Sofienbergparken","v":22},{"h":12,"s":"Sofienbergparken","v":20},{"h":13,"s":"Sofienbergparken","v":20},{"h":14,"s":"Sofienbergparken","v":22},{"h":15,"s":"Sofienbergparken","v":22},{"h":16,"s":"Sofienbergparken","v":25},{"h":17,"s":"Sofienbergparken","v":22},{"h":18,"s":"Sofienbergparken","v":20},{"h":19,"s":"Sofienbergparken","v":18},{"h":20,"s":"Sofienbergparken","v":18},{"h":21,"s":"Sofienbergparken","v":16},{"h":22,"s":"Sofienbergparken","v":15},{"h":23,"s":"Sofienbergparken","v":14},
{"h":24,"s":"Sofienbergparken","v":12},{"h":25,"s":"Sofienbergparken","v":10},{"h":26,"s":"Sofienbergparken","v":8},{"h":27,"s":"Sofienbergparken","v":6},{"h":28,"s":"Sofienbergparken","v":6},{"h":29,"s":"Sofienbergparken","v":6},{"h":30,"s":"Sofienbergparken","v":8},{"h":31,"s":"Sofienbergparken","v":12},{"h":32,"s":"Sofienbergparken","v":28},{"h":33,"s":"Sofienbergparken","v":40},{"h":34,"s":"Sofienbergparken","v":55},{"h":35,"s":"Sofienbergparken","v":50},{"h":36,"s":"Sofienbergparken","v":45},{"h":37,"s":"Sofienbergparken","v":40},{"h":38,"s":"Sofienbergparken","v":35},{"h":39,"s":"Sofienbergparken","v":30},{"h":40,"s":"Sofienbergparken","v":35},{"h":41,"s":"Sofienbergparken","v":32},{"h":42,"s":"Sofienbergparken","v":55},{"h":43,"s":"Sofienbergparken","v":60},{"h":44,"s":"Sofienbergparken","v":45},{"h":45,"s":"Sofienbergparken","v":35},{"h":46,"s":"Sofienbergparken","v":30},{"h":47,"s":"Sofienbergparken","v":25},
{"h":48,"s":"Sofienbergparken","v":22},{"h":49,"s":"Sofienbergparken","v":20},{"h":50,"s":"Sofienbergparken","v":18},{"h":51,"s":"Sofienbergparken","v":16},{"h":52,"s":"Sofienbergparken","v":15},{"h":53,"s":"Sofienbergparken","v":18},{"h":54,"s":"Sofienbergparken","v":20},{"h":55,"s":"Sofienbergparken","v":25},{"h":56,"s":"Sofienbergparken","v":40},{"h":57,"s":"Sofienbergparken","v":35},{"h":58,"s":"Sofienbergparken","v":30},{"h":59,"s":"Sofienbergparken","v":25},{"h":60,"s":"Sofienbergparken","v":22},{"h":61,"s":"Sofienbergparken","v":20},{"h":62,"s":"Sofienbergparken","v":18},{"h":63,"s":"Sofienbergparken","v":15},{"h":64,"s":"Sofienbergparken","v":12},{"h":65,"s":"Sofienbergparken","v":10},{"h":66,"s":"Sofienbergparken","v":10},{"h":67,"s":"Sofienbergparken","v":10},{"h":68,"s":"Sofienbergparken","v":10},{"h":69,"s":"Sofienbergparken","v":8},{"h":70,"s":"Sofienbergparken","v":8},{"h":71,"s":"Sofienbergparken","v":6},{"h":72,"s":"Sofienbergparken","v":6},

{"h":0,"s":"Spikersuppa","v":10},{"h":1,"s":"Spikersuppa","v":8},{"h":2,"s":"Spikersuppa","v":5},{"h":3,"s":"Spikersuppa","v":5},{"h":4,"s":"Spikersuppa","v":4},{"h":5,"s":"Spikersuppa","v":4},{"h":6,"s":"Spikersuppa","v":5},{"h":7,"s":"Spikersuppa","v":12},{"h":8,"s":"Spikersuppa","v":20},{"h":9,"s":"Spikersuppa","v":18},{"h":10,"s":"Spikersuppa","v":18},{"h":11,"s":"Spikersuppa","v":16},{"h":12,"s":"Spikersuppa","v":16},{"h":13,"s":"Spikersuppa","v":17},{"h":14,"s":"Spikersuppa","v":18},{"h":15,"s":"Spikersuppa","v":18},{"h":16,"s":"Spikersuppa","v":20},{"h":17,"s":"Spikersuppa","v":18},{"h":18,"s":"Spikersuppa","v":17},{"h":19,"s":"Spikersuppa","v":16},{"h":20,"s":"Spikersuppa","v":15},{"h":21,"s":"Spikersuppa","v":15},{"h":22,"s":"Spikersuppa","v":14},{"h":23,"s":"Spikersuppa","v":13},
{"h":24,"s":"Spikersuppa","v":12},{"h":25,"s":"Spikersuppa","v":10},{"h":26,"s":"Spikersuppa","v":8},{"h":27,"s":"Spikersuppa","v":6},{"h":28,"s":"Spikersuppa","v":6},{"h":29,"s":"Spikersuppa","v":6},{"h":30,"s":"Spikersuppa","v":8},{"h":31,"s":"Spikersuppa","v":15},{"h":32,"s":"Spikersuppa","v":40},{"h":33,"s":"Spikersuppa","v":75},{"h":34,"s":"Spikersuppa","v":95},{"h":35,"s":"Spikersuppa","v":85},{"h":36,"s":"Spikersuppa","v":73},{"h":37,"s":"Spikersuppa","v":64},{"h":38,"s":"Spikersuppa","v":60},{"h":39,"s":"Spikersuppa","v":51},{"h":40,"s":"Spikersuppa","v":43},{"h":41,"s":"Spikersuppa","v":47},{"h":42,"s":"Spikersuppa","v":85},{"h":43,"s":"Spikersuppa","v":103},{"h":44,"s":"Spikersuppa","v":85},{"h":45,"s":"Spikersuppa","v":51},{"h":46,"s":"Spikersuppa","v":45},{"h":47,"s":"Spikersuppa","v":40},
{"h":48,"s":"Spikersuppa","v":30},{"h":49,"s":"Spikersuppa","v":25},{"h":50,"s":"Spikersuppa","v":22},{"h":51,"s":"Spikersuppa","v":20},{"h":52,"s":"Spikersuppa","v":18},{"h":53,"s":"Spikersuppa","v":18},{"h":54,"s":"Spikersuppa","v":20},{"h":55,"s":"Spikersuppa","v":22},{"h":56,"s":"Spikersuppa","v":20},{"h":57,"s":"Spikersuppa","v":42},{"h":58,"s":"Spikersuppa","v":30},{"h":59,"s":"Spikersuppa","v":28},{"h":60,"s":"Spikersuppa","v":25},{"h":61,"s":"Spikersuppa","v":22},{"h":62,"s":"Spikersuppa","v":20},{"h":63,"s":"Spikersuppa","v":18},{"h":64,"s":"Spikersuppa","v":15},{"h":65,"s":"Spikersuppa","v":12},{"h":66,"s":"Spikersuppa","v":10},{"h":67,"s":"Spikersuppa","v":10},{"h":68,"s":"Spikersuppa","v":10},{"h":69,"s":"Spikersuppa","v":8},{"h":70,"s":"Spikersuppa","v":8},{"h":71,"s":"Spikersuppa","v":8},{"h":72,"s":"Spikersuppa","v":8},

{"h":0,"s":"Vahl skole","v":15},{"h":1,"s":"Vahl skole","v":10},{"h":2,"s":"Vahl skole","v":8},{"h":3,"s":"Vahl skole","v":8},{"h":4,"s":"Vahl skole","v":8},{"h":5,"s":"Vahl skole","v":8},{"h":6,"s":"Vahl skole","v":12},{"h":7,"s":"Vahl skole","v":30},{"h":8,"s":"Vahl skole","v":52},{"h":9,"s":"Vahl skole","v":50},{"h":10,"s":"Vahl skole","v":42},{"h":11,"s":"Vahl skole","v":40},{"h":12,"s":"Vahl skole","v":35},{"h":13,"s":"Vahl skole","v":30},{"h":14,"s":"Vahl skole","v":30},{"h":15,"s":"Vahl skole","v":25},{"h":16,"s":"Vahl skole","v":30},{"h":17,"s":"Vahl skole","v":40},{"h":18,"s":"Vahl skole","v":42},{"h":19,"s":"Vahl skole","v":45},{"h":20,"s":"Vahl skole","v":40},{"h":21,"s":"Vahl skole","v":62},{"h":22,"s":"Vahl skole","v":50},{"h":23,"s":"Vahl skole","v":40},
{"h":24,"s":"Vahl skole","v":30},{"h":25,"s":"Vahl skole","v":30},{"h":26,"s":"Vahl skole","v":20},{"h":27,"s":"Vahl skole","v":15},{"h":28,"s":"Vahl skole","v":10},{"h":29,"s":"Vahl skole","v":8},{"h":30,"s":"Vahl skole","v":8},{"h":31,"s":"Vahl skole","v":12},{"h":32,"s":"Vahl skole","v":40},{"h":33,"s":"Vahl skole","v":110},{"h":34,"s":"Vahl skole","v":130},{"h":35,"s":"Vahl skole","v":135},{"h":36,"s":"Vahl skole","v":115},{"h":37,"s":"Vahl skole","v":85},{"h":38,"s":"Vahl skole","v":70},{"h":39,"s":"Vahl skole","v":88},{"h":40,"s":"Vahl skole","v":100},{"h":41,"s":"Vahl skole","v":60},{"h":42,"s":"Vahl skole","v":132},{"h":43,"s":"Vahl skole","v":205},{"h":44,"s":"Vahl skole","v":170},{"h":45,"s":"Vahl skole","v":128},{"h":46,"s":"Vahl skole","v":107},{"h":47,"s":"Vahl skole","v":80},
{"h":48,"s":"Vahl skole","v":60},{"h":49,"s":"Vahl skole","v":50},{"h":50,"s":"Vahl skole","v":55},{"h":51,"s":"Vahl skole","v":42},{"h":52,"s":"Vahl skole","v":35},{"h":53,"s":"Vahl skole","v":40},{"h":54,"s":"Vahl skole","v":52},{"h":55,"s":"Vahl skole","v":80},{"h":56,"s":"Vahl skole","v":112},{"h":57,"s":"Vahl skole","v":105},{"h":58,"s":"Vahl skole","v":105},{"h":59,"s":"Vahl skole","v":70},{"h":60,"s":"Vahl skole","v":50},{"h":61,"s":"Vahl skole","v":40},{"h":62,"s":"Vahl skole","v":30},{"h":63,"s":"Vahl skole","v":25},{"h":64,"s":"Vahl skole","v":20},{"h":65,"s":"Vahl skole","v":18},{"h":66,"s":"Vahl skole","v":16},{"h":67,"s":"Vahl skole","v":15},{"h":68,"s":"Vahl skole","v":15},{"h":69,"s":"Vahl skole","v":15},{"h":70,"s":"Vahl skole","v":15},{"h":71,"s":"Vahl skole","v":15},{"h":72,"s":"Vahl skole","v":16}
  ]},
  "mark": {"type": "line", "strokeWidth": 1.75, "strokeJoin": "round", "invalid": "break-paths-filter-domains"},
  "encoding": {
    "x": {"field": "h", "type": "quantitative",
      "scale": {"domain": [-0.5, 72.5], "nice": false, "zero": false},
      "axis": {"orient": "bottom", "values": [0,1,2,3,4,5,6,7,8,9,10,11,12,13,14,15,16,17,18,19,20,21,22,23,24,25,26,27,28,29,30,31,32,33,34,35,36,37,38,39,40,41,42,43,44,45,46,47,48,49,50,51,52,53,54,55,56,57,58,59,60,61,62,63,64,65,66,67,68,69,70,71,72],
        "labelExpr": "datum.value % 2 == 0 ? '' + (datum.value % 24) : ''",
        "grid": true, "gridDash": [3, 3], "gridColor": "#D9D9D9", "gridWidth": 1,
        "ticks": false, "domain": true, "domainColor": "#D9D9D9",
        "labelFontSize": 11, "labelColor": "#595959", "labelPadding": 7,
        "labelOverlap": false, "labelFlush": false, "labelBound": false, "title": null}},
    "y": {"field": "v", "type": "quantitative",
      "scale": {"domain": [0, 600], "nice": false},
      "axis": {"values": [0,100,200,300,400,500,600], "grid": true, "gridDash": [3, 3], "gridColor": "#D9D9D9",
        "ticks": false, "domain": false, "labelFontSize": 12, "labelColor": "#595959", "labelPadding": 10,
        "title": "Timemiddel av svevestøv PM₁₀ (µg/m³)", "titleFontWeight": "normal", "titleFontSize": 11,
        "titleColor": "#595959", "titlePadding": 3}},
    "color": {"field": "s", "type": "nominal",
      "scale": {
        "domain": ["Alnabru","Brynbanen","Bygdøy Alle","E6 Alna senter","Hjortnes","Kirkeveien","Langkaia","Manglerud","Ring 3 Økern","Skøyen","Sofienbergparken","Spikersuppa","Vahl skole"],
        "range": ["#F4A06C","#2F9A14","#45C3F3","#33CC33","#FF4FD3","#B5460F","#26A196","#1D6011","#0F3F8F","#4EA72E","#1E8BD6","#FF1C1C","#5A0F5C"]},
      "legend": {"orient": "none", "legendX": 18, "legendY": 285, "direction": "horizontal", "columns": 5,
        "title": null, "symbolType": "stroke", "symbolSize": 256, "symbolStrokeWidth": 2,
        "labelFontSize": 11, "labelColor": "#000000", "labelOffset": 2, "labelLimit": 200,
        "columnPadding": 19, "rowPadding": -3, "gridAlign": "all"}}
  }
},
{
  "data": {"values": [
    {"level": "Svært høyt", "v": 400},
    {"level": "Høyt", "v": 120},
    {"level": "Moderat", "v": 60}
  ]},
  "mark": {"type": "rule", "strokeWidth": 2.25},
  "encoding": {
    "x": {"datum": 0, "type": "quantitative",
      "axis": {"orient": "bottom", "values": [-0.5, 11.5, 23.5, 35.5, 47.5, 60, 72.5],
        "labelExpr": "datum.value == 11.5 ? 'Mandag 11.3.2024' : datum.value == 35.5 ? 'Tirsdag 12.3.2024' : datum.value == 60 ? 'Onsdag 13.3.2024' : ''",
        "ticks": true, "tickSize": 41, "tickColor": "#D9D9D9",
        "tickOpacity": {"condition": {"test": "datum.value == 11.5 || datum.value == 35.5 || datum.value == 60", "value": 0}, "value": 1},
        "domain": false, "grid": false, "labelPadding": -14, "labelFontSize": 11, "labelColor": "#595959",
        "labelOverlap": false, "labelFlush": false, "labelBound": false, "title": null}},
    "x2": {"datum": 72},
    "y": {"field": "v", "type": "quantitative"},
    "stroke": {"field": "level", "type": "nominal",
      "scale": {"domain": ["Svært høyt", "Høyt", "Moderat"], "range": ["#7030A0", "#C00000", "#FFC000"]},
      "legend": null}
  }
},
{
  "data": {"values": [
    {"level": "Svært høyt", "v": 400},
    {"level": "Høyt", "v": 120},
    {"level": "Moderat", "v": 60}
  ]},
  "mark": {"type": "text", "align": "left", "baseline": "alphabetic", "dx": 3, "dy": -6, "fontWeight": "bold", "fontSize": 11.5, "color": "#000000"},
  "encoding": {
    "x": {"datum": 0, "type": "quantitative", "axis": null},
    "y": {"field": "v", "type": "quantitative"},
    "text": {"field": "level"}
  }
},
{
  "data": {"values": [{"logo": "nilu"}]},
  "mark": {"type": "text", "align": "left", "baseline": "alphabetic", "fontSize": 29, "fontWeight": "bold", "font": "Roboto", "color": "#1D4C59"},
  "encoding": {
    "x": {"datum": 72.1, "type": "quantitative", "axis": null},
    "y": {"datum": -222, "type": "quantitative"},
    "text": {"field": "logo"}
  }
}
]
}
